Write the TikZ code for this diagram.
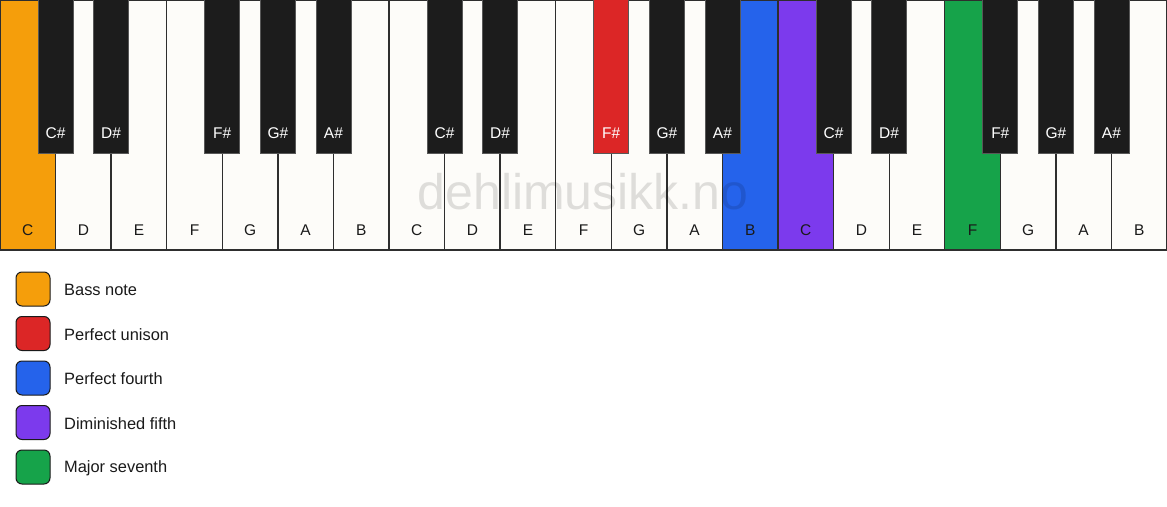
\documentclass[tikz,border=0pt]{standalone}
\usepackage{fontspec}
\setmainfont{Liberation Sans}
\definecolor{wkey}{HTML}{FDFCF9}
\definecolor{bkey}{HTML}{1C1C1C}
\definecolor{edge}{HTML}{2E2E2E}
\definecolor{cbass}{HTML}{F59E0B}
\definecolor{cunison}{HTML}{DC2626}
\definecolor{cfourth}{HTML}{2563EB}
\definecolor{cfifth}{HTML}{7C3AED}
\definecolor{cseventh}{HTML}{16A34A}
\definecolor{txt}{HTML}{1A1A1A}
\tikzset{
  whitekey/.style={draw=edge, line width=1.3pt},
  blackkey/.style={draw=edge!80, line width=0.8pt},
  wlabel/.style={text=txt, font=\fontsize{15.5}{18}\selectfont},
  blabel/.style={text=white, font=\fontsize{15.5}{18}\selectfont},
  legbox/.style={draw=txt, line width=1pt, rounded corners=6pt, minimum width=34pt, minimum height=34pt, inner sep=0pt},
  legtext/.style={text=txt, anchor=west, font=\fontsize{16.4}{19}\selectfont, inner sep=0pt},
  wmark/.style={text=black, opacity=0.12, font=\fontsize{50}{55}\selectfont}
}
\begin{document}
\begin{tikzpicture}[x=1pt,y=-1pt]
\useasboundingbox (0,0) rectangle (1167,506);
\fill[white] (0,0) rectangle (1167,506);
\def\w{55.5714}
% white keys
\foreach \i/\n/\c in {0/C/cbass,1/D/wkey,2/E/wkey,3/F/wkey,4/G/wkey,5/A/wkey,6/B/wkey,
  7/C/wkey,8/D/wkey,9/E/wkey,10/F/wkey,11/G/wkey,12/A/wkey,13/B/cfourth,
  14/C/cfifth,15/D/wkey,16/E/wkey,17/F/cseventh,18/G/wkey,19/A/wkey,20/B/wkey}{
  \draw[whitekey, fill=\c] ({\i*\w},0) rectangle ({(\i+1)*\w},250);
  \node[wlabel] (w\i) at ({(\i+0.5)*\w},230.5) {\n};
}
% watermark
\node[wmark] (wm) at (583,192) {dehlimusikk.no};
% black keys
\foreach \j/\n/\c in {1/C\#/bkey,2/D\#/bkey,4/F\#/bkey,5/G\#/bkey,6/A\#/bkey,
  8/C\#/bkey,9/D\#/bkey,11/F\#/cunison,12/G\#/bkey,13/A\#/bkey,
  15/C\#/bkey,16/D\#/bkey,18/F\#/bkey,19/G\#/bkey,20/A\#/bkey}{
  \draw[blackkey, fill=\c] ({\j*\w-17.5},-1) rectangle ({\j*\w+17.5},153);
  \node[blabel] (b\j) at ({\j*\w},133.5) {\n};
}
% legend
\foreach \k/\c/\t in {0/cbass/Bass note,1/cunison/Perfect unison,2/cfourth/Perfect fourth,
  3/cfifth/Diminished fifth,4/cseventh/Major seventh}{
  \node[legbox, fill=\c] (lb\k) at (33,{289+44.5*\k}) {};
  \node[legtext] (lt\k) at (64,{290+44.5*\k}) {\t};
}
\end{tikzpicture}
\end{document}
